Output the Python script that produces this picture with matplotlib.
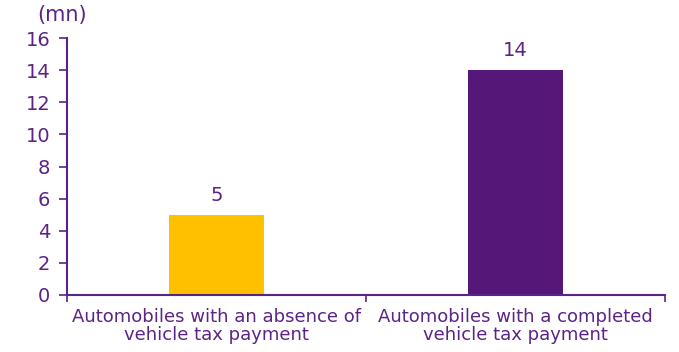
import matplotlib
matplotlib.use("Agg")
import matplotlib.pyplot as plt

categories = ["Automobiles with an absence of\nvehicle tax payment",
              "Automobiles with a completed\nvehicle tax payment"]
values = [5, 14]
bar_colors = ["#FFC000", "#561878"]
yticks = [0, 2, 4, 6, 8, 10, 12, 14, 16]

txt = "#5B2386"
plt.rcParams["font.family"] = "DejaVu Sans"

fig = plt.figure(figsize=(6.79, 3.52), dpi=100)
ax = fig.add_axes([67/679, 1 - 295/352, (665 - 67)/679, (295 - 38)/352])

x = range(len(categories))
bars = ax.bar(x, values, width=0.32, color=bar_colors)
for xi, v in zip(x, values):
    ax.annotate(str(v), (xi, v), xytext=(0, 7), textcoords="offset points",
                ha="center", va="bottom", color=txt, fontsize=14)

ax.set_xlim(-0.5, 1.5)
ax.set_ylim(0, 16)
ax.set_yticks(yticks)

# category separators as major ticks, labels on minor ticks
ax.set_xticks([-0.5, 0.5, 1.5])
ax.set_xticklabels([])
ax.set_xticks(list(x), minor=True)
ax.set_xticklabels(categories, minor=True, fontsize=13, color=txt, linespacing=1.0)
ax.tick_params(axis="x", which="minor", length=0, pad=9)
ax.tick_params(axis="x", which="major", length=5, width=1.2, color=txt)
ax.tick_params(axis="y", length=6, width=1.2, color=txt, labelcolor=txt,
               labelsize=14, pad=6)

for s in ["top", "right"]:
    ax.spines[s].set_visible(False)
for s in ["left", "bottom"]:
    ax.spines[s].set_color(txt)
    ax.spines[s].set_linewidth(1.5)

fig.text(62/679, 1 - 15/352, "(mn)", ha="center", va="center", color=txt, fontsize=15)

fig.savefig("out.png", dpi=100)
